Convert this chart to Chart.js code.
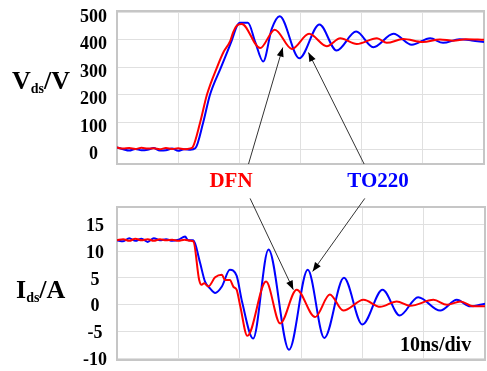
<!DOCTYPE html>
<html><head><meta charset="utf-8">
<script src="https://cdn.jsdelivr.net/npm/chart.js@4/dist/chart.umd.min.js"></script>
<style>
html,body{margin:0;padding:0;background:#fff;}
#wrap{position:relative;width:487px;height:371px;overflow:hidden;background:#fff;}
canvas{position:absolute;left:0;}
.t{position:absolute;font-family:'Liberation Serif','Times New Roman',serif;font-weight:bold;white-space:nowrap;line-height:1;color:#000;}
.t sub{font-size:14px;vertical-align:-4px;line-height:0;}
</style></head><body>
<div id="wrap">
<canvas id="c1" width="487" height="185" style="top:0"></canvas>
<canvas id="c2" width="487" height="181" style="top:190px"></canvas>
<div class="t" style="left:12px;top:68px;font-size:26px;">V<sub>ds</sub>/V</div>
<div class="t" style="left:16px;top:277px;font-size:26px;">I<sub>ds</sub>/A</div>
<div class="t" style="left:231px;top:170px;font-size:21px;color:#ff0000;transform:translateX(-50%);">DFN</div>
<div class="t" style="left:378px;top:170px;font-size:21px;color:#0000ff;transform:translateX(-50%);">TO220</div>
<div class="t" style="left:400px;top:334px;font-size:20px;">10ns/div</div>
</div>
<script>
// time axis (ns), 10 ns per division
const xTicks = [0, 10, 20, 30, 40, 50, 60];
const vdsTicks = [0, 100, 200, 300, 400, 500];
const idsTicks = [-10, -5, 0, 5, 10, 15];

// Vds (V) - DFN (red)
const tVdsDFN = [0,1,2,3,4,5,6,7,8,9,10,11,12,12.4,13.6,14.7,16.35,17.4,18.5,19.0,19.6,20.4,23.4,25.8,28.6,31.4,34.3,36.5,39.2,42.5,44.1,46.8,50.0,52.8,55,57,60];
const vdsDFN  = [8,4,6,3,7,4,5,2,6,3,5,2,5,10,100,200,300,355,395,428,452,458,370,437,367,422,377,406,385,406,389,403,392,401,397,402,400];
// Vds (V) - TO220 (blue)
const tVdsTO = [0,1,2,3,4,5,6,7,8,9,10,11,12,12.8,14.1,15.2,17.0,18.8,19.6,20.1,21.4,22.6,23.9,25.3,26.6,29.8,33.1,35.9,39.1,41.9,45.2,48.2,51.2,53.3,56,58,60];
const vdsTO  = [8,2,-3,3,-2,0,6,-3,-2,4,-4,2,0,5,100,200,300,400,450,462,462,392,321,440,486,333,456,361,430,373,422,382,406,389,402,398,392];

// Ids (A) - DFN (red)
const tIdsDFN = [0,1,2,3,4,5,6,7,8,9,10,11,12,12.45,13.4,13.8,14.2,14.9,16.0,17.1,17.6,18.4,19.0,19.5,20.1,21.25,24.3,26.6,29.3,32.3,34.7,36.9,40.2,42.9,45.6,47.8,51.6,53.8,56.0,58.1,60];
const idsDFN  = [12.0,12.2,11.9,12.3,12.0,12.2,11.9,12.2,12.0,12.1,11.9,12.1,11.9,11.8,4.6,3.7,4.0,3.4,5.1,5.6,4.6,4.6,3.3,2.8,-0.3,-5.8,4.3,-3.5,2.8,-2.3,1.9,-1.1,0.9,-0.4,0.6,-0.2,0.9,0.0,0.6,-0.3,-0.3];
// Ids (A) - TO220 (blue)
const tIdsTO = [0,1,2,3,4,5,6,7,8,9,10,11.1,11.6,12.45,13.5,14.35,15.2,16.0,17.1,18.4,19.5,20.4,22.2,24.7,28.05,31.1,33.8,37.0,40.0,43.3,46.1,49.1,52.7,55.4,57.6,60];
const idsTO  = [12.0,11.8,12.4,11.9,12.3,11.7,12.4,12.0,12.2,11.9,12.1,12.7,12.0,12.0,8.0,4.3,3.0,2.2,3.4,6.5,5.4,0.5,-6.3,10.3,-8.4,6.5,-6.2,5.0,-3.7,2.8,-2.0,1.4,-1.1,0.9,-0.3,0.2];

// annotation arrows: [time, value] tail -> tip
const arrowsVds = [
  {from:[21.5,-52], to:[27.1,372]},
  {from:[40.4,-52], to:[31.3,354]}
];
const arrowsIds = [
  {from:[21.7,19.8], to:[28.75,2.8]},
  {from:[40.4,19.8], to:[31.9,6.2]}
];

const RED = 'rgb(255,0,0)', BLUE = 'rgb(0,0,255)';
const GRID = '#e0e0e0';
const pts = (t, v) => t.map((x, i) => ({x, y: v[i]}));

const framePlugin = {
  id: 'frame',
  beforeDatasetsDraw(chart) {
    const {ctx, chartArea: a} = chart;
    ctx.save();
    ctx.strokeStyle = '#c6c6c6';
    ctx.lineWidth = 2;
    ctx.strokeRect(a.left, a.top, a.right - a.left, a.bottom - a.top);
    ctx.restore();
  }
};
const arrowPlugin = {
  id: 'arrows',
  afterDatasetsDraw(chart, args, opts) {
    const {ctx, scales: {x, y}} = chart;
    ctx.save();
    (opts.list || []).forEach(a => {
      const x0 = x.getPixelForValue(a.from[0]), y0 = y.getPixelForValue(a.from[1]);
      const x1 = x.getPixelForValue(a.to[0]), y1 = y.getPixelForValue(a.to[1]);
      ctx.strokeStyle = '#333'; ctx.lineWidth = 1;
      ctx.beginPath(); ctx.moveTo(x0, y0); ctx.lineTo(x1, y1); ctx.stroke();
      const ang = Math.atan2(y1 - y0, x1 - x0), L = 9, W = 3.5;
      ctx.fillStyle = '#000';
      ctx.beginPath(); ctx.moveTo(x1, y1);
      ctx.lineTo(x1 - L*Math.cos(ang) + W*Math.sin(ang), y1 - L*Math.sin(ang) - W*Math.cos(ang));
      ctx.lineTo(x1 - L*Math.cos(ang) - W*Math.sin(ang), y1 - L*Math.sin(ang) + W*Math.cos(ang));
      ctx.closePath(); ctx.fill();
    });
    ctx.restore();
  }
};

function makeChart(id, red, blue, yMin, yMax, yTicks, labelOffset, pad, arrows) {
  return new Chart(document.getElementById(id), {
    type: 'line',
    data: {
      datasets: [
        {data: red, borderColor: RED, borderWidth: 2, pointRadius: 0, cubicInterpolationMode: 'monotone', fill: false},
        {data: blue, borderColor: BLUE, borderWidth: 2, pointRadius: 0, cubicInterpolationMode: 'monotone', fill: false}
      ]
    },
    options: {
      responsive: false, animation: false,
      layout: {padding: pad},
      plugins: {legend: {display: false}, tooltip: {enabled: false}, arrows: {list: arrows}},
      scales: {
        x: {type: 'linear', min: 0, max: 60,
            afterBuildTicks: s => { s.ticks = xTicks.map(v => ({value: v})); },
            afterFit: s => { s.height = 0; s.paddingLeft = 0; s.paddingRight = 0; s.paddingTop = 0; s.paddingBottom = 0; },
            ticks: {display: false},
            grid: {color: GRID, drawTicks: false, lineWidth: 1},
            border: {display: false}},
        y: {type: 'linear', min: yMin, max: yMax,
            afterBuildTicks: s => { s.ticks = yTicks.map(v => ({value: v})); },
            afterFit: s => { s.width = 117; s.paddingTop = 0; s.paddingBottom = 0; s.paddingLeft = 0; s.paddingRight = 0; },
            ticks: {font: {family: "'Liberation Serif', serif", weight: 'bold', size: 18}, color: '#000',
                    crossAlign: 'center', padding: 10, labelOffset: labelOffset},
            grid: {color: GRID, drawTicks: false, lineWidth: 1},
            border: {display: false}}
      }
    },
    plugins: [framePlugin, arrowPlugin]
  });
}

makeChart('c1', pts(tVdsDFN, vdsDFN), pts(tVdsTO, vdsTO), -52, 505, vdsTicks, 5,
          {top: 11, right: 3, bottom: 21, left: 0}, arrowsVds);
makeChart('c2', pts(tIdsDFN, idsDFN), pts(tIdsTO, idsTO), -10.3, 18.2, idsTicks, 2,
          {top: 17, right: 2, bottom: 11, left: 0}, arrowsIds);
</script>
</body></html>
